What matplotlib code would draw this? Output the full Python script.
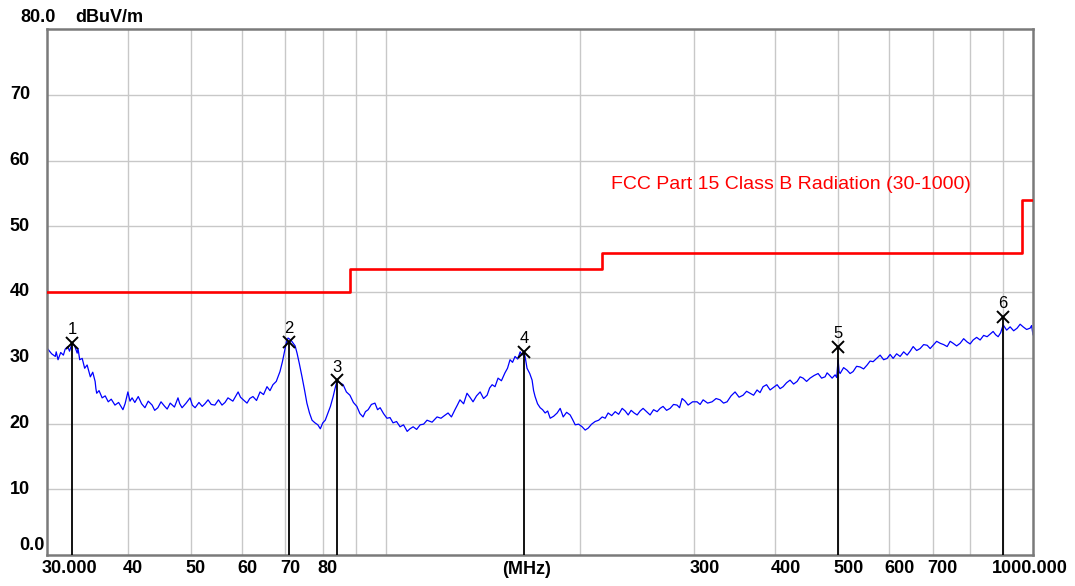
import numpy as np
from matplotlib import pyplot as plt
from matplotlib.transforms import blended_transform_factory, offset_copy

seg1_f = [30.1, 30.5, 30.9, 31.0, 31.2, 31.5, 31.8, 32.0, 32.3, 32.5, 32.8, 33.1, 33.4, 33.5, 33.7,
          34.0, 34.3, 34.6, 35.0, 35.3, 35.6, 35.7, 35.8, 36.1, 36.5, 36.9, 37.3, 37.7, 38.2, 38.7,
          39.3, 39.6, 40.0, 40.3, 40.6, 41.0, 41.5, 42.0, 42.5, 43.0, 43.6, 44.0, 44.5, 45.0, 45.6,
          46.0, 46.5, 47.2, 47.8, 48.1, 48.5, 49.2, 49.9, 50.3, 50.8, 51.5, 52.1, 52.6, 53.2, 53.8,
          54.5, 55.2, 55.9, 56.5, 57.1, 58.1, 59.2, 59.7, 60.3]
seg1_v = [31.3, 30.6, 30.2, 30.9, 29.7, 30.8, 30.4, 31.3, 31.7, 31.0, 32.2, 31.8, 30.7, 31.4, 29.7,
          29.9, 28.4, 28.9, 27.1, 27.8, 26.4, 25.3, 24.6, 25.0, 23.9, 24.2, 23.3, 23.7, 22.8, 23.2,
          22.1, 23.0, 24.8, 23.4, 23.9, 23.2, 24.1, 23.0, 22.4, 23.4, 22.8, 22.0, 22.4, 23.3, 22.6,
          22.2, 23.1, 22.5, 23.9, 23.0, 22.4, 23.1, 23.9, 22.8, 22.4, 23.2, 22.6, 23.0, 23.6, 22.9,
          22.8, 23.6, 22.8, 23.2, 23.9, 23.4, 24.8, 24.0, 23.6]

seg2_f = [61.1, 61.7, 62.4, 63.2, 64.0, 64.8, 65.6, 66.3, 67.0, 67.8, 68.7, 69.3, 69.9, 70.3, 70.7,
          71.4, 72.0, 72.5, 73.0, 73.6, 74.3, 75.0, 75.6, 76.3, 77.0, 77.8, 78.6, 79.3, 80.0, 80.7,
          81.5, 82.2, 83.0, 83.5, 84.1, 85.0, 86.0, 87.0, 88.1, 89.2, 90.3, 91.3, 92.3, 93.1, 94.0,
          95.1, 96.3, 97.2, 98.1, 99.3, 100.5, 101.6, 102.7, 104.0, 105.3, 106.6, 108.0, 109.1,
          110.3, 111.7, 113.1, 114.5, 115.9, 118.0, 120.1]
seg2_v = [23.1, 23.8, 24.1, 23.5, 24.8, 24.4, 25.6, 25.0, 25.9, 26.4, 27.9, 29.4, 31.2, 32.4, 33.0,
          32.7, 32.2, 31.8, 30.7, 29.1, 27.1, 25.0, 23.1, 21.6, 20.5, 20.1, 19.8, 19.2, 20.1, 20.5,
          21.6, 22.6, 24.1, 25.2, 26.4, 26.2, 25.9, 24.8, 24.3, 23.2, 22.6, 21.5, 21.0, 21.8, 22.1,
          22.9, 23.1, 22.1, 22.4, 21.5, 20.8, 20.9, 20.1, 20.3, 19.5, 19.8, 18.8, 19.2,
          19.5, 19.1, 19.8, 19.9, 20.5, 20.2, 21.0]

seg3_f = [121.8, 123.3, 124.9, 126.4, 128.0, 129.1, 130.3, 132.0, 133.6, 135.0, 136.5, 138.2, 140.0,
          141.7, 143.5, 144.8, 146.1, 147.6, 149.2, 151.0, 152.9, 154.3, 155.7, 157.1, 158.5, 160.0,
          161.4, 162.5, 163.7, 164.5, 165.4, 167.0, 168.4, 169.3, 170.2, 171.7, 173.3, 174.8, 176.4,
          178.0, 179.6, 181.8, 184.1, 186.1, 188.1, 190.4, 192.8, 194.5, 196.3, 198.7, 201.2, 203.4,
          205.6, 208.1, 210.7, 213.4, 216.1, 218.4, 220.7, 223.5, 226.3, 229.1, 232.0, 234.5, 237.0,
          239.5, 242.1]
seg3_v = [20.8, 21.2, 21.6, 21.0, 22.1, 22.8, 23.6, 23.0, 24.6, 24.0, 23.3, 24.2, 24.8,
          23.8, 24.3, 25.4, 25.9, 25.6, 26.9, 26.5, 27.7, 28.4, 29.7, 29.3, 30.2, 29.8,
          30.9, 30.4, 30.9, 29.8, 28.4, 27.6, 26.6, 25.0, 24.1, 23.0, 22.4, 22.1, 21.6,
          21.9, 20.8, 21.1, 21.6, 22.3, 21.0, 21.7, 21.3, 20.6, 19.8, 19.9, 19.5, 19.0,
          19.3, 19.9, 20.3, 20.5, 21.0, 20.8, 21.6, 21.2, 21.8, 21.4, 22.3, 21.9, 21.3,
          22.0, 21.6]

seg4_f = [244.7, 247.3, 249.9, 253.0, 256.2, 259.4, 262.7, 265.5, 268.3, 271.7, 275.1, 278.5, 282.0,
          284.5, 287.1, 290.2, 293.3, 298.0, 302.8, 306.1, 309.4, 314.4, 319.4, 324.0, 328.6, 332.7,
          336.9, 341.7, 346.6, 351.6, 356.6, 361.1, 365.6, 370.2, 374.8, 378.8, 382.9, 387.7, 392.6,
          397.5, 402.5, 406.8, 411.2, 416.3, 421.5, 426.8, 432.2, 436.8, 441.5, 447.0, 452.6, 459.1,
          465.7, 471.5, 477.4, 480.8, 484.3]
seg4_v = [21.3, 21.9, 22.3, 21.8, 21.3, 22.1, 21.8, 22.3, 22.6, 22.0, 22.3, 22.9, 22.8,
          22.4, 23.8, 23.4, 22.8, 23.3, 23.3, 22.9, 23.6, 23.1, 23.3, 23.8, 23.6, 23.1,
          23.3, 24.2, 24.8, 24.0, 24.3, 24.9, 24.6, 24.3, 25.1, 24.7, 25.6, 25.9, 25.1,
          25.5, 25.9, 25.3, 25.6, 26.2, 26.6, 26.0, 26.4, 27.1, 26.9, 26.4, 26.9, 27.3,
          27.6, 26.9, 27.1, 27.7, 27.4]

seg5_f = [489.5, 494.7, 497.5, 500.0, 501.8, 503.6, 509.9, 516.3, 521.8, 527.4, 534.0, 540.7, 547.5,
          554.4, 560.3, 566.3, 573.4, 580.6, 587.9, 595.2, 601.6, 608.1, 615.7, 623.4, 631.3, 639.2,
          646.1, 653.0, 661.2, 669.4, 677.8, 686.3, 693.7, 701.1, 709.9, 718.8, 727.8, 736.9, 744.8,
          752.8, 762.2, 771.7, 781.4, 791.2, 799.7, 808.2, 818.4, 828.6, 839.0, 849.5, 858.6, 867.8,
          875.6, 883.4, 891.3, 899.3, 910.6, 921.9, 933.5, 945.1, 955.3, 965.5, 977.6, 989.7, 995.0,
          1000.0]
seg5_v = [26.9, 27.4, 27.0, 29.7, 27.9, 27.6, 28.5, 28.1, 27.6, 27.9, 28.7, 28.6, 28.3,
          28.9, 29.5, 29.4, 29.9, 30.4, 29.7, 29.9, 30.5, 29.9, 30.6, 30.2, 30.9, 30.4,
          31.0, 31.7, 31.1, 31.4, 32.0, 31.9, 31.4, 31.9, 32.5, 32.2, 32.0, 31.7, 32.5,
          32.2, 31.8, 32.2, 32.9, 32.4, 32.1, 32.7, 33.1, 32.7, 33.4, 33.2, 33.6, 34.0,
          33.5, 33.2, 33.8, 35.0, 34.2, 34.7, 34.1, 34.5, 35.1, 34.7, 34.3, 34.5, 34.9,
          33.5]

# FCC Part 15 Class B limit
limit_freq = [30, 88, 216, 960, 1000]
limit_level = [40, 43.5, 46, 54, 54]

# peak markers
marker_ids = ["1", "2", "3", "4", "5", "6"]
marker_freq = [32.8, 70.9, 84.1, 163.7, 500.0, 899.3]
marker_level = [32.3, 32.4, 26.6, 30.9, 31.7, 36.2]

xgrid = [40, 50, 60, 70, 80, 90, 100, 200, 300, 400, 500, 600, 700, 800, 900]
xtick_vals = [30, 40, 50, 60, 70, 80, 300, 400, 500, 600, 700]
xtick_labels = ["30.000", "40", "50", "60", "70", "80", "300", "400", "500", "600", "700"]
ytick_vals = [10, 20, 30, 40, 50, 60, 70]


def plot_emission(filename):
    plt.rcParams["font.family"] = ["Liberation Sans", "DejaVu Sans"]

    freq = seg1_f + seg2_f + seg3_f + seg4_f + seg5_f
    level = seg1_v + seg2_v + seg3_v + seg4_v + seg5_v

    fig = plt.figure(figsize=(10.75, 5.86), dpi=100)
    ax = fig.add_axes([47 / 1075, 31 / 586, 986 / 1075, 526 / 586])

    ax.set_xscale("log")
    ax.set_xlim(30, 1000)
    ax.set_ylim(0, 80)

    # grid
    for f in xgrid:
        ax.axvline(f, color="#c8c8c8", lw=1, zorder=0)
    for v in ytick_vals:
        ax.axhline(v, color="#c8c8c8", lw=1, zorder=0)

    ax.set_xticks([], minor=True)
    ax.set_xticks([])
    ax.set_yticks([])
    for s in ax.spines.values():
        s.set_color("#7a7a7a")
        s.set_linewidth(1.8)

    # data
    ax.plot(limit_freq, limit_level, color="#ff0000", lw=1.9, drawstyle="steps-post", zorder=3)
    ax.plot(freq, level, color="#0000ff", lw=0.9, zorder=2)

    for mid, f, v in zip(marker_ids, marker_freq, marker_level):
        ax.plot([f, f], [0, v], color="black", lw=1.3, zorder=4)
        ax.plot(f, v, marker="x", color="black", ms=9, mew=1.4, zorder=5)
        ax.annotate(mid, (f, v), xytext=(0, 4), textcoords="offset points",
                    ha="center", va="bottom", fontsize=12, color="black")

    ax.text(0.572, 0.705, "FCC Part 15 Class B Radiation (30-1000)", transform=ax.transAxes,
            color="#ff0000", fontsize=14, ha="left", va="center")

    # axis labels drawn as text
    xtrans = blended_transform_factory(ax.transData, ax.transAxes)
    xoff = offset_copy(xtrans, fig=fig, x=-5, y=-5, units="dots")
    for f, lab in zip(xtick_vals, xtick_labels):
        ax.text(f, 0, lab, transform=xoff, ha="left", va="top", fontsize=13, fontweight="bold")
    ax.text(1000, 0, "1000.000", transform=offset_copy(xtrans, fig=fig, x=-3, y=-5, units="dots"),
            ha="center", va="top", fontsize=13, fontweight="bold")
    fig.text(527 / 1075, 1 - 569 / 586, "(MHz)", ha="center", va="center", fontsize=13, fontweight="bold")

    ytrans = blended_transform_factory(ax.transAxes, ax.transData)
    yoff = offset_copy(ytrans, fig=fig, x=-17, y=0, units="dots")
    for v in ytick_vals:
        ax.text(0, v, str(v), transform=yoff, ha="right", va="center", fontsize=13, fontweight="bold")
    fig.text(45 / 1075, 1 - 545 / 586, "0.0", ha="right", va="center", fontsize=13, fontweight="bold")
    fig.text(20 / 1075, 1 - 17 / 586, "80.0", ha="left", va="center", fontsize=13, fontweight="bold")
    fig.text(75 / 1075, 1 - 17 / 586, "dBuV/m", ha="left", va="center", fontsize=13, fontweight="bold")

    plt.savefig(filename, dpi=100)
    plt.close()


if __name__ == "__main__":
    plot_emission("out.png")
